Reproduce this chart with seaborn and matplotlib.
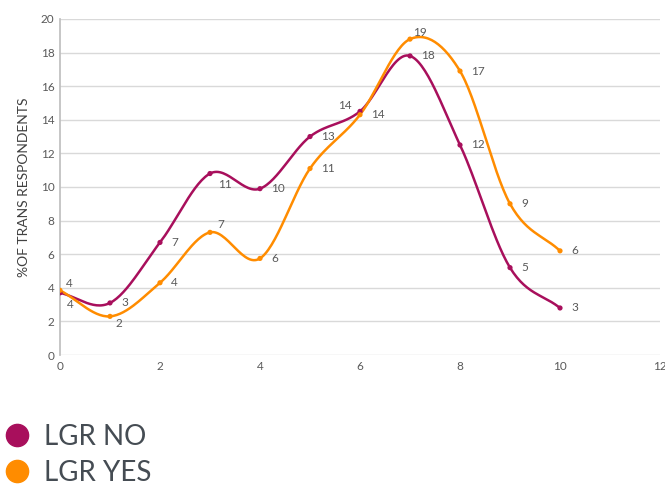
import numpy as np
import pandas as pd
import matplotlib
matplotlib.use("Agg")
import matplotlib.pyplot as plt
import seaborn as sns
from matplotlib.lines import Line2D

x_vals = [0, 1, 2, 3, 4, 5, 6, 7, 8, 9, 10]
lgr_no = [3.7, 3.1, 6.7, 10.8, 9.9, 13.0, 14.5, 17.8, 12.5, 5.2, 2.8]
lgr_yes = [3.85, 2.3, 4.3, 7.3, 5.75, 11.1, 14.3, 18.8, 16.9, 9.0, 6.2]
series_names = ["LGR NO", "LGR YES"]
colors = {"LGR NO": "#A80F5C", "LGR YES": "#FF8C00"}

sns.set_theme(style="white")
plt.rcParams["font.family"] = ["Lato", "DejaVu Sans"]

def catmull(xs, ys, n=30):
    xs = np.asarray(xs, float); ys = np.asarray(ys, float)
    P = np.column_stack([xs, ys])
    P = np.vstack([P[0] - (P[1] - P[0]), P, P[-1] + (P[-1] - P[-2])])
    out = []
    for i in range(1, len(P) - 2):
        p0, p1, p2, p3 = P[i - 1], P[i], P[i + 1], P[i + 2]
        t = np.linspace(0, 1, n, endpoint=(i == len(P) - 3))[:, None]
        pts = 0.5 * ((2 * p1) + (-p0 + p2) * t + (2 * p0 - 5 * p1 + 4 * p2 - p3) * t**2
                     + (-p0 + 3 * p1 - 3 * p2 + p3) * t**3)
        out.append(pts)
    out = np.vstack(out)
    return out[:, 0], out[:, 1]

rows = []
pts = []
for name, vals in zip(series_names, [lgr_no, lgr_yes]):
    sx, sy = catmull(x_vals, vals)
    for a, b in zip(sx, sy):
        rows.append({"x": a, "y": b, "series": name})
    for a, b in zip(x_vals, vals):
        pts.append({"x": a, "y": b, "series": name})
curve = pd.DataFrame(rows)
pts = pd.DataFrame(pts)

fig = plt.figure(figsize=(6.65, 4.86), dpi=100)
ax = fig.add_axes([0.0902, 0.2695, 0.9023, 0.6915])

sns.lineplot(data=curve, x="x", y="y", hue="series", palette=colors, sort=False,
             estimator=None, linewidth=1.8, legend=False, ax=ax)
sns.scatterplot(data=pts, x="x", y="y", hue="series", palette=colors, s=14,
                edgecolor="none", legend=False, ax=ax, zorder=5)

# label offsets in pixels (dx, dy)
offs = {
    "LGR NO": {0: (7, -12), 3: (8, -11), 6: (-8, 6)},
    "LGR YES": {0: (6, 7), 1: (6, -7), 3: (7, 8), 7: (3, 7)},
}
label_col = "#595959"
for name, vals in zip(series_names, [lgr_no, lgr_yes]):
    for i, (a, b) in enumerate(zip(x_vals, vals)):
        dx, dy = offs[name].get(i, (11, 0))
        ax.annotate(f"{round(b):d}", (a, b), xytext=(dx * 0.72, dy * 0.72),
                    textcoords="offset points", ha="left" if dx >= 0 else "right",
                    va="center", fontsize=8.5, color=label_col)

ax.set_xlim(0, 12)
ax.set_ylim(0, 20)
ax.set_xticks(range(0, 13, 2))
ax.set_yticks(range(0, 21, 2))
ax.grid(axis="y", color="#d9d9d9", linewidth=1)
ax.set_axisbelow(True)
for s in ["top", "right", "bottom"]:
    ax.spines[s].set_visible(False)
ax.spines["left"].set_color("#bfbfbf")
ax.tick_params(axis="both", colors="#595959", labelsize=8.5, length=0, pad=4)
ax.set_xlabel("")
ax.set_ylabel("%OF TRANS RESPONDENTS", fontsize=10, color="#404040", labelpad=8)

handles = [Line2D([0], [0], marker="o", linestyle="none", markersize=16,
                  markerfacecolor=colors[n], markeredgecolor=colors[n]) for n in series_names]
fig.legend(handles, series_names, loc="upper left", bbox_to_anchor=(-0.0105, 0.150),
           frameon=False, fontsize=20, labelcolor="#454c53", handlelength=0.9,
           handletextpad=0.55, labelspacing=0.36, borderaxespad=0)

fig.savefig("out.png", dpi=100)
